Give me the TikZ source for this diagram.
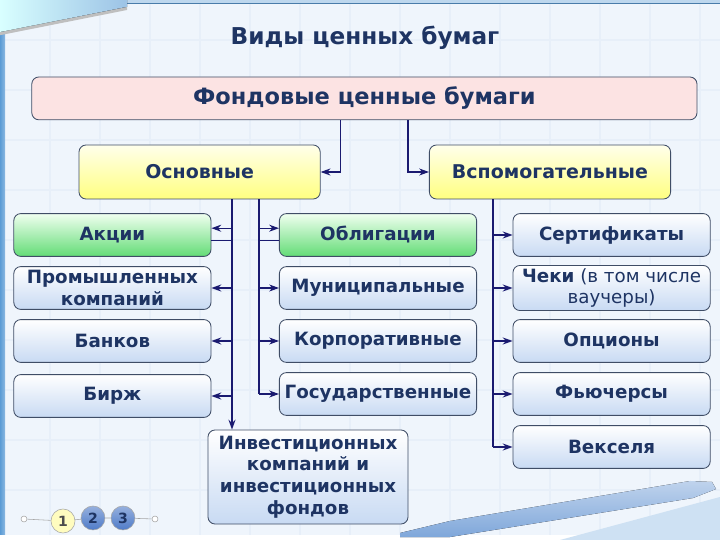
\documentclass[tikz,border=0pt]{standalone}
\usepackage{fontspec}
\setmainfont{DejaVu Sans}
\usetikzlibrary{positioning, arrows.meta, calc}
\definecolor{sec-navy}{HTML}{1E3463}
\definecolor{sec-line}{HTML}{1A1A70}
\definecolor{sec-edge}{HTML}{3F4D66}
\definecolor{sec-pink}{HTML}{FCE3E3}
\definecolor{sec-sky}{HTML}{C8DAF3}
\definecolor{sec-green}{HTML}{63DC76}
\definecolor{sec-yellow}{HTML}{FFFF80}
\definecolor{sec-bg}{HTML}{EFF5FC}
\definecolor{sec-grid}{HTML}{E7EFF9}
\definecolor{sec-strip}{HTML}{5B9BD5}
\definecolor{sec-pen}{HTML}{7FA7DA}
\definecolor{sec-btn}{HTML}{4F7BC8}

\begin{document}
\begin{tikzpicture}[
    pg/.style={draw=sec-edge, rounded corners=5pt, line width=0.6pt, align=center,
               minimum width=4.93cm, minimum height=1.07cm, inner sep=2pt, text=sec-navy,
               font=\fontsize{13}{15.5}\selectfont\bfseries},
    skybox/.style={pg, top color=white, bottom color=sec-sky},
    greenbox/.style={pg, top color=green!6, bottom color=sec-green},
    yellowbox/.style={pg, top color=yellow!8, bottom color=sec-yellow,
                      minimum width=6.03cm, minimum height=1.35cm,
                      font=\fontsize{13.5}{16}\selectfont\bfseries},
    arr/.style={-{Stealth[length=7pt, width=5pt]}, line width=0.8pt, sec-line},
    ln/.style={line width=0.8pt, sec-line},
    btn/.style={circle, draw=gray!70, minimum size=0.6cm, inner sep=0pt,
                font=\bfseries},
    dot/.style={circle, draw=gray!70, fill=white, minimum size=0.15cm, inner sep=0pt},
]
    \useasboundingbox (0,0) rectangle (18,13.5);
    \fill[sec-bg] (0,0) rectangle (18,13.5);
    \draw[sec-grid, line width=2pt] (0,0) grid[step=1.25cm] (18,13.5);
    \fill[white] (0,0) rectangle (18,0.12);
    \fill[sec-strip!40!white] (0,13.42) rectangle (18,13.5);
    \draw[sec-strip!80!black, line width=0.8pt] (3.175,13.42) -- (18,13.42);
    \fill[left color=sec-strip, right color=sec-strip!70] (0,0.15) rectangle (0.13,12.7);
    \fill[gray!50] (0,12.62) -- (3.175,13.25) -- (3.175,13.33) -- (0,12.7) -- cycle;
    \fill[left color=cyan!15, right color=sec-strip!60] (0,12.7) -- (3.175,13.33)
        -- (3.175,13.5) -- (0,13.5) -- cycle;
    \fill[sec-strip!30] (14,0) -- (18,1.075) -- (18,0) -- cycle;
    \fill[top color=sec-pen!50, bottom color=sec-pen] (10,0.175) -- (11.25,0.475)
        -- (17.25,1.475) -- (17.8,1.45) -- (17.9,1.275) -- (17.325,1.05)
        -- (11.25,0.075) -- (10,0.075) -- cycle;

    \node[text=sec-navy, font=\fontsize{16.5}{19}\selectfont\bfseries] (title) at (9.125,12.55)
        {Виды ценных бумаг};
    \node[pg, fill=sec-pink, minimum width=16.63cm, font=\fontsize{16}{18}\selectfont\bfseries]
        (fond) at (9.11,11.04) {Фондовые ценные бумаги};

    \node[yellowbox] (osn) at (4.99,9.2) {Основные};
    \node[yellowbox] (vsp) at (13.75,9.2) {Вспомогательные};

    \node[greenbox] (akc)    at (2.81,7.625) {Акции};
    \node[skybox]   (prom)   at (2.81,6.3)   {Промышленных\\компаний};
    \node[skybox]   (bank)   at (2.81,4.975) {Банков};
    \node[skybox]   (birzh)  at (2.81,3.6)   {Бирж};

    \node[greenbox] (obl)    at (9.45,7.625) {Облигации};
    \node[skybox]   (mun)    at (9.45,6.3)   {Муниципальные};
    \node[skybox]   (korp)   at (9.45,4.975) {Корпоративные};
    \node[skybox]   (gos)    at (9.45,3.65)  {Государственные};
    \node[skybox, minimum width=5cm, minimum height=2.35cm] (inv) at (7.7,1.575)
        {Инвестиционных\\компаний и\\инвестиционных\\фондов};

    \node[skybox]   (sert)   at (15.29,7.625) {Сертификаты};
    \node[skybox, font=\fontsize{13}{15.5}\selectfont] (chek) at (15.29,6.3)
        {{\bfseries Чеки} (в том числе\\ваучеры)};
    \node[skybox]   (opc)    at (15.29,4.975) {Опционы};
    \node[skybox]   (fut)    at (15.29,3.65)  {Фьючерсы};
    \node[skybox]   (veks)   at (15.29,2.325) {Векселя};

    \coordinate (lv) at ([xshift=0.81cm]osn.south);
    \coordinate (mv) at ([xshift=1.485cm]osn.south);
    \coordinate (rv) at ([xshift=-1.425cm]vsp.south);

    \draw[arr] ([xshift=-0.59cm]fond.south) |- (osn.east);
    \draw[arr] ([xshift=1.09cm]fond.south) |- (vsp.west);

    \draw[arr] (lv) -- (lv |- inv.north);
    \draw[arr] ([yshift=0.17cm]lv |- akc.east) -- ([yshift=0.17cm]akc.east);
    \draw[ln] ([yshift=-0.13cm]akc.east) -- ([yshift=-0.13cm]lv |- akc.east);
    \foreach \n in {prom, bank, birzh}
        \draw[arr] (lv |- \n.east) -- (\n.east);

    \draw[ln] (mv) -- (mv |- gos.west);
    \draw[arr] ([yshift=0.17cm]mv |- obl.west) -- ([yshift=0.17cm]obl.west);
    \draw[ln] ([yshift=-0.13cm]obl.west) -- ([yshift=-0.13cm]mv |- obl.west);
    \foreach \n in {mun, korp, gos}
        \draw[arr] (mv |- \n.west) -- (\n.west);

    \draw[ln] (rv) -- (rv |- veks.west);
    \foreach \n in {sert, chek, opc, fut, veks}
        \draw[arr] (rv |- \n.west) -- (\n.west);

    \node[dot] (d0) at (0.6,0.525) {};
    \node[btn, fill=yellow!25, text=black!70] (b1) at (1.575,0.475) {1};
    \node[btn, top color=sec-btn!60, bottom color=sec-btn, text=sec-navy] (b2) at (2.325,0.55) {2};
    \node[btn, top color=sec-btn!60, bottom color=sec-btn, text=sec-navy] (b3) at (3.075,0.55) {3};
    \node[dot] (d1) at (3.875,0.525) {};
    \draw[gray!70] (d0) -- (b1) -- (b2) -- (b3) -- (d1);
\end{tikzpicture}
\end{document}
